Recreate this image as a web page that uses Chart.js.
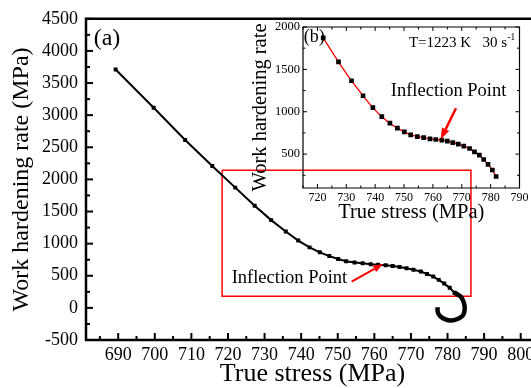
<!DOCTYPE html>
<html><head><meta charset="utf-8">
<script src="https://cdn.jsdelivr.net/npm/chart.js@4/dist/chart.umd.min.js"></script>
<style>
html,body{margin:0;padding:0;background:#fff;overflow:hidden;width:531px;height:388px;}
#wrap{position:relative;width:531px;height:388px;overflow:hidden;}
#main{position:absolute;left:0;top:0;}
#inset{position:absolute;left:250px;top:15px;}
</style></head><body>
<div id="wrap"><canvas id="main" width="545" height="388"></canvas><canvas id="inset" width="281" height="215"></canvas></div>
<script>
// ---- data ----
const earlyStress = [689.3, 699.7, 708.3, 715.7];
const earlyRate   = [3711, 3116, 2613, 2210];
const stress = [722.0, 727.3, 731.8, 735.8, 739.2, 742.3, 745.1, 747.7, 750.1, 752.3, 754.6, 756.8, 759.0,
                761.0, 763.1, 765.0, 766.9, 768.8, 770.7, 772.7, 774.4, 776.1, 777.6, 779.1, 780.6, 781.9];
const rate   = [1872, 1589, 1366, 1189, 1048, 942, 865, 806, 762, 727, 707, 695, 680,
                672, 665, 653, 636, 618, 594, 566, 527, 488, 436, 378, 312, 236];
const hookStress = [781.9, 783.0, 783.8, 784.5, 784.7, 784.3, 783.2, 781.1, 779.3, 777.9, 777.3, 777.3];
const hookRate   = [236, 200, 160, 73, -20, -109, -160, -197, -175, -124, -57, 11];
const boxStress = [718.4, 786.4, 786.4, 718.4, 718.4];
const boxRate   = [2143, 2143, 182, 182, 2143];
const mainXTickStep = 5, mainXLabelStep = 10;
const mainYTickStep = 250, mainYLabelStep = 500;
const insetXTickStep = 5, insetXLabelStep = 10;
const insetYTickStep = 250, insetYLabelStep = 500;

const pts = (xs, ys) => xs.map((x, i) => ({x, y: ys[i]}));
const SERIF = "'Liberation Serif','Times New Roman',serif";
Chart.defaults.font.family = SERIF;
Chart.defaults.color = '#000';

function makeTicks(step, from, to) {
  return s => { const t = []; for (let v = from; v <= to + 1e-9; v += step) t.push({value: v}); s.ticks = t; };
}

const frameTicks = {
  id: 'frameTicks',
  afterDatasetsDraw(chart, args, o) {
    const {ctx, chartArea: a, scales} = chart;
    ctx.save();
    ctx.strokeStyle = '#000';
    ctx.lineWidth = o.tickWidth;
    const sides = o.tickSides;
    for (const t of scales.x.ticks) {
      const p = scales.x.getPixelForValue(t.value);
      if (p < a.left - 0.5 || p > a.right + 0.5) continue;
      const len = (Math.abs(t.value % o.xMajor) < 1e-6) ? o.majorLen : o.minorLen;
      ctx.beginPath();
      if (sides.includes('bottom')) { ctx.moveTo(p, a.bottom); ctx.lineTo(p, a.bottom - len); }
      if (sides.includes('top')) { ctx.moveTo(p, a.top); ctx.lineTo(p, a.top + len); }
      ctx.stroke();
    }
    for (const t of scales.y.ticks) {
      const p = scales.y.getPixelForValue(t.value);
      if (p < a.top - 0.5 || p > a.bottom + 0.5) continue;
      const len = (Math.abs(t.value % o.yMajor) < 1e-6) ? o.majorLen : o.minorLen;
      ctx.beginPath();
      if (sides.includes('left')) { ctx.moveTo(a.left, p); ctx.lineTo(a.left + len, p); }
      if (sides.includes('right')) { ctx.moveTo(a.right, p); ctx.lineTo(a.right - len, p); }
      ctx.stroke();
    }
    ctx.lineWidth = o.frameWidth;
    ctx.lineCap = 'square';
    ctx.beginPath();
    if (o.frame.includes('left')) { ctx.moveTo(a.left, a.top); ctx.lineTo(a.left, a.bottom); }
    if (o.frame.includes('bottom')) { ctx.moveTo(a.left, a.bottom); ctx.lineTo(a.right, a.bottom); }
    if (o.frame.includes('top')) { ctx.moveTo(a.left, a.top); ctx.lineTo(a.right, a.top); }
    if (o.frame.includes('right')) { ctx.moveTo(a.right, a.top); ctx.lineTo(a.right, a.bottom); }
    ctx.stroke();
    ctx.restore();
  }
};

function drawArrow(ctx, x1, y1, x2, y2, lw, hl, hw) {
  const ang = Math.atan2(y2 - y1, x2 - x1);
  const bx = x2 - hl * Math.cos(ang), by = y2 - hl * Math.sin(ang);
  ctx.lineWidth = lw;
  ctx.beginPath(); ctx.moveTo(x1, y1); ctx.lineTo(bx, by); ctx.stroke();
  ctx.beginPath(); ctx.moveTo(x2, y2);
  ctx.lineTo(bx + hw / 2 * Math.sin(ang), by - hw / 2 * Math.cos(ang));
  ctx.lineTo(bx - hw / 2 * Math.sin(ang), by + hw / 2 * Math.cos(ang));
  ctx.closePath(); ctx.fill();
}

const notes = {
  id: 'notes',
  afterDraw(chart, args, o) {
    const {ctx, scales} = chart;
    ctx.save();
    for (const t of o.texts || []) {
      const px = scales.x.getPixelForValue(t.x), py = scales.y.getPixelForValue(t.y);
      ctx.font = t.size + 'px ' + SERIF;
      ctx.fillStyle = '#000';
      ctx.textAlign = 'left';
      ctx.textBaseline = 'middle';
      ctx.fillText(t.text, px, py);
      if (t.sup) {
        const w = ctx.measureText(t.text).width;
        ctx.font = (t.size * 0.62) + 'px ' + SERIF;
        ctx.fillText(t.sup, px + w + 0.5, py - t.size * 0.38);
      }
    }
    ctx.strokeStyle = '#ff0000';
    ctx.fillStyle = '#ff0000';
    for (const ar of o.arrows || []) {
      drawArrow(ctx, scales.x.getPixelForValue(ar.x1), scales.y.getPixelForValue(ar.y1),
                scales.x.getPixelForValue(ar.x2), scales.y.getPixelForValue(ar.y2), ar.lw, ar.hl, ar.hw);
    }
    ctx.restore();
  }
};

// ---- main chart ----
new Chart(document.getElementById('main'), {
  type: 'scatter',
  data: {
    datasets: [
      {data: pts(earlyStress.concat(stress), earlyRate.concat(rate)), showLine: true, borderColor: '#000', borderWidth: 2,
       pointStyle: 'rect', pointRadius: 2.8, pointBackgroundColor: '#000', pointBorderWidth: 0, tension: 0, order: 0},
      {data: pts(hookStress, hookRate), showLine: true, borderColor: '#000', borderWidth: 4.5, pointRadius: 0,
       tension: 0.4, order: 1},
      {data: pts(boxStress, boxRate), showLine: true, borderColor: '#ff0000', borderWidth: 1.5, pointRadius: 0,
       tension: 0, order: 2}
    ]
  },
  plugins: [frameTicks, notes],
  options: {
    responsive: false, animation: false, events: [],
    layout: {padding: {left: 0, top: 18, right: 6, bottom: 0}},
    plugins: {
      legend: {display: false}, tooltip: {enabled: false},
      frameTicks: {tickSides: ['bottom', 'left'], frame: ['left', 'bottom', 'top'], tickWidth: 2,
                   majorLen: 7, minorLen: 4, frameWidth: 2.5, xMajor: mainXLabelStep, yMajor: mainYLabelStep},
      notes: {
        texts: [
          {x: 683.3, y: 4188, text: '(a)', size: 24},
          {x: 721.0, y: 466, text: 'Inflection Point', size: 18.5}
        ],
        arrows: [{x1: 753.8, y1: 408, x2: 762.4, y2: 683, lw: 2, hl: 10, hw: 7}]
      }
    },
    scales: {
      x: {type: 'linear', min: 681.2, max: 805,
          grid: {display: false, drawTicks: false}, border: {display: false},
          afterBuildTicks: makeTicks(mainXTickStep, 685, 805),
          afterFit: s => { s.height = 48; },
          ticks: {autoSkip: false, maxRotation: 0, padding: 4, font: {size: 18}, color: '#000',
                  callback: v => (Math.abs(v % mainXLabelStep) < 1e-6 ? String(v) : '')},
          title: {display: true, text: 'True stress (MPa)', font: {size: 26, lineHeight: 1},
                  padding: {top: 0, bottom: 1}, color: '#000'}},
      y: {type: 'linear', min: -500, max: 4500,
          grid: {display: false, drawTicks: false}, border: {display: false},
          afterBuildTicks: makeTicks(mainYTickStep, -500, 4500),
          afterFit: s => { s.width = 86; },
          ticks: {autoSkip: false, padding: 8, font: {size: 18}, color: '#000',
                  callback: v => (Math.abs(v % mainYLabelStep) < 1e-6 ? String(v) : '')},
          title: {display: true, text: 'Work hardening rate (MPa)', font: {size: 24, lineHeight: 1},
                  padding: {top: 10, bottom: 0}, color: '#000'}}
    }
  }
});

// ---- inset chart ----
new Chart(document.getElementById('inset'), {
  type: 'scatter',
  data: {
    datasets: [
      {data: pts(stress, rate), showLine: false, pointStyle: 'rect', pointRadius: 3.3,
       pointBackgroundColor: '#000', pointBorderWidth: 0, order: 0},
      {data: pts(stress, rate), showLine: true, borderColor: '#ff0000', borderWidth: 1.3, pointRadius: 0,
       cubicInterpolationMode: 'monotone', order: 1}
    ]
  },
  plugins: [frameTicks, notes],
  options: {
    responsive: false, animation: false, events: [],
    layout: {padding: {left: 0, top: 12, right: 7, bottom: 0}},
    plugins: {
      legend: {display: false}, tooltip: {enabled: false},
      frameTicks: {tickSides: ['bottom', 'left', 'top', 'right'], frame: ['left', 'bottom', 'top', 'right'],
                   tickWidth: 1, majorLen: 4, minorLen: 2.5, frameWidth: 1.2,
                   xMajor: insetXLabelStep, yMajor: insetYLabelStep},
      notes: {
        texts: [
          {x: 715.3, y: 1884, text: '(b)', size: 18},
          {x: 751.7, y: 1806, text: 'T=1223 K   30 s', sup: '-1', size: 15},
          {x: 745.4, y: 1248, text: 'Inflection Point', size: 18.5}
        ],
        arrows: [{x1: 768, y1: 1041, x2: 762.7, y2: 676, lw: 2.5, hl: 11, hw: 8}]
      }
    },
    scales: {
      x: {type: 'linear', min: 715, max: 790,
          grid: {display: false, drawTicks: false}, border: {display: false},
          afterBuildTicks: makeTicks(insetXTickStep, 715, 790),
          afterFit: s => { s.height = 42; },
          ticks: {autoSkip: false, maxRotation: 0, padding: 2.5, font: {size: 12}, color: '#000',
                  callback: v => (Math.abs(v % insetXLabelStep) < 1e-6 ? String(v) : '')},
          title: {display: true, text: 'True stress (MPa)', font: {size: 20.5, lineHeight: 1},
                  padding: {top: 0, bottom: 6.75}, color: '#000'}},
      y: {type: 'linear', min: 100, max: 2000,
          grid: {display: false, drawTicks: false}, border: {display: false},
          afterBuildTicks: makeTicks(insetYTickStep, 250, 2000),
          afterFit: s => { s.width = 53; },
          ticks: {autoSkip: false, padding: 3, font: {size: 12.5}, color: '#000',
                  callback: v => (Math.abs(v % insetYLabelStep) < 1e-6 ? String(v) : '')},
          title: {display: true, text: 'Work hardening rate', font: {size: 20.5, lineHeight: 1},
                  padding: {top: 0.75, bottom: 0}, color: '#000'}}
    }
  }
});
</script>
</body></html>
